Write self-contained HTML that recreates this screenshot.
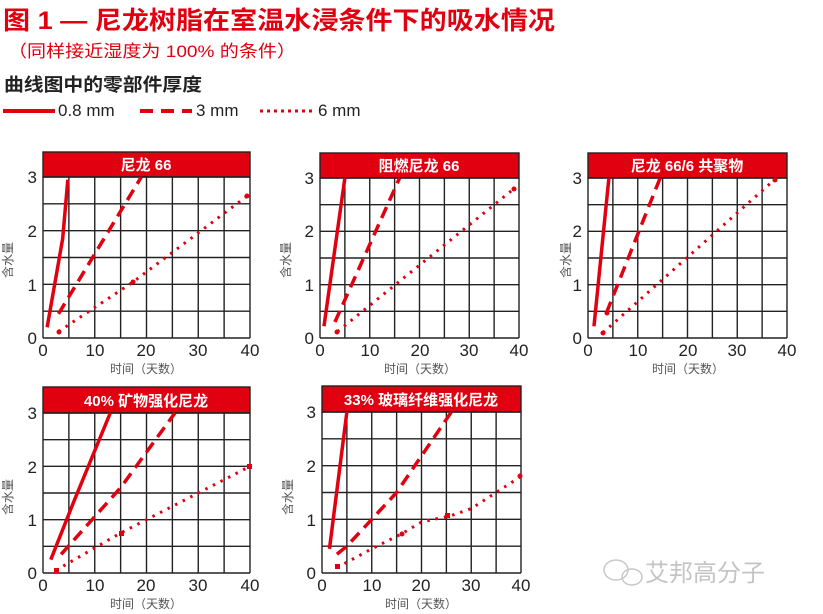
<!DOCTYPE html>
<html><head><meta charset="utf-8"><style>
body{margin:0;background:#fff;width:823px;height:614px;overflow:hidden}
svg{display:block}
text{font-family:"Liberation Sans","Noto Sans CJK SC",sans-serif}
.tk{font-size:17px;fill:#222}
.xl{font-size:12px;fill:#555}
.hd{font-size:15px;fill:#fff;font-weight:bold}
.g line{stroke:#222;stroke-width:1.4;vector-effect:non-scaling-stroke}
.s{fill:none;stroke:#e00010;stroke-width:3.5;vector-effect:non-scaling-stroke}
.d{fill:none;stroke:#e00010;stroke-width:3.5;stroke-dasharray:12 7;vector-effect:non-scaling-stroke}
.o{fill:none;stroke:#e00010;stroke-width:3;stroke-dasharray:2.5 6;vector-effect:non-scaling-stroke}
.m{fill:#e00010}
</style></head><body>
<svg width="823" height="614" viewBox="0 0 823 614">
<defs>
<g id="grid" class="g">
<line x1="0" y1="0" x2="0" y2="3"/><line x1="5" y1="0" x2="5" y2="3"/><line x1="10" y1="0" x2="10" y2="3"/><line x1="15" y1="0" x2="15" y2="3"/><line x1="20" y1="0" x2="20" y2="3"/><line x1="25" y1="0" x2="25" y2="3"/><line x1="30" y1="0" x2="30" y2="3"/><line x1="35" y1="0" x2="35" y2="3"/><line x1="40" y1="0" x2="40" y2="3"/>
<line x1="0" y1="0" x2="40" y2="0"/><line x1="0" y1="0.5" x2="40" y2="0.5"/><line x1="0" y1="1" x2="40" y2="1"/><line x1="0" y1="1.5" x2="40" y2="1.5"/><line x1="0" y1="2" x2="40" y2="2"/><line x1="0" y1="2.5" x2="40" y2="2.5"/><line x1="0" y1="3" x2="40" y2="3"/>
</g>
</defs>
<text x="3" y="29" textLength="552" lengthAdjust="spacingAndGlyphs" style="font-size:25px;font-weight:bold;fill:#e00010">图 1 — 尼龙树脂在室温水浸条件下的吸水情况</text>
<text x="8" y="57" textLength="288" lengthAdjust="spacingAndGlyphs" style="font-size:17px;fill:#e00010">（同样接近湿度为 100% 的条件）</text>
<text x="4" y="91" textLength="198" lengthAdjust="spacingAndGlyphs" style="font-size:18px;font-weight:bold;fill:#222">曲线图中的零部件厚度</text>
<line x1="3" y1="111" x2="55" y2="111" stroke="#e00010" stroke-width="4"/>
<text x="58" y="116" style="font-size:17px;fill:#222">0.8 mm</text>
<line x1="140" y1="111" x2="192" y2="111" stroke="#e00010" stroke-width="4" stroke-dasharray="13 8"/>
<text x="196" y="116" style="font-size:17px;fill:#222">3 mm</text>
<line x1="260" y1="111" x2="316" y2="111" stroke="#e00010" stroke-width="3" stroke-dasharray="3 4"/>
<text x="318" y="116" style="font-size:17px;fill:#222">6 mm</text>

<!-- Chart 1 -->
<g>
<rect x="43" y="152" width="207" height="25" fill="#e00010" stroke="#222" stroke-width="1.4"/>
<text class="hd" x="146" y="170" text-anchor="middle">尼龙 66</text>
<g transform="translate(43,338) scale(5.175,-53.67)">
<use href="#grid"/>
<polyline class="s" points="0.8,0.2 3.8,1.85 4.8,2.95"/>
<polyline class="d" points="3,0.45 19,3"/>
<polyline class="o" points="3,0.12 17.5,1.05 39.5,2.65"/>
</g>
<circle class="m" cx="59" cy="332" r="2.5"/><circle class="m" cx="133" cy="282" r="2.5"/><circle class="m" cx="247" cy="196" r="2.5"/>
<text class="tk" x="37" y="344" text-anchor="end">0</text><text class="tk" x="37" y="291" text-anchor="end">1</text><text class="tk" x="37" y="237" text-anchor="end">2</text><text class="tk" x="37" y="183" text-anchor="end">3</text>
<text class="tk" x="43" y="356" text-anchor="middle">0</text><text class="tk" x="95" y="356" text-anchor="middle">10</text><text class="tk" x="146" y="356" text-anchor="middle">20</text><text class="tk" x="198" y="356" text-anchor="middle">30</text><text class="tk" x="250" y="356" text-anchor="middle">40</text>
<text class="xl" x="146" y="373" text-anchor="middle">时间（天数）</text>
<text class="xl" transform="translate(12,260) rotate(-90)" text-anchor="middle">含水量</text>
</g>

<!-- Chart 2 -->
<g>
<rect x="320" y="153" width="199" height="25" fill="#e00010" stroke="#222" stroke-width="1.4"/>
<text class="hd" x="419" y="171" text-anchor="middle">阻燃尼龙 66</text>
<g transform="translate(320,338) scale(4.975,-53.33)">
<use href="#grid"/>
<polyline class="s" points="0.8,0.22 5,3"/>
<polyline class="d" points="3,0.3 16,3"/>
<polyline class="o" points="3.5,0.12 39,2.8"/>
</g>
<circle class="m" cx="337" cy="332" r="2.5"/><circle class="m" cx="514" cy="189" r="2.5"/>
<text class="tk" x="314" y="344" text-anchor="end">0</text><text class="tk" x="314" y="291" text-anchor="end">1</text><text class="tk" x="314" y="237" text-anchor="end">2</text><text class="tk" x="314" y="184" text-anchor="end">3</text>
<text class="tk" x="320" y="356" text-anchor="middle">0</text><text class="tk" x="370" y="356" text-anchor="middle">10</text><text class="tk" x="420" y="356" text-anchor="middle">20</text><text class="tk" x="469" y="356" text-anchor="middle">30</text><text class="tk" x="519" y="356" text-anchor="middle">40</text>
<text class="xl" x="420" y="373" text-anchor="middle">时间（天数）</text>
<text class="xl" transform="translate(290,260) rotate(-90)" text-anchor="middle">含水量</text>
</g>

<!-- Chart 3 -->
<g>
<rect x="588" y="153" width="199" height="25" fill="#e00010" stroke="#222" stroke-width="1.4"/>
<text class="hd" x="687" y="171" text-anchor="middle">尼龙 66/6 共聚物</text>
<g transform="translate(588,338) scale(4.975,-53.33)">
<use href="#grid"/>
<polyline class="s" points="1.2,0.22 4.2,3"/>
<polyline class="d" points="3.7,0.47 14.5,3"/>
<polyline class="o" points="3,0.1 37.5,2.97"/>
</g>
<circle class="m" cx="603" cy="333" r="2.5"/><circle class="m" cx="607" cy="313" r="2.5"/><circle class="m" cx="775" cy="180" r="2.5"/>
<text class="tk" x="582" y="344" text-anchor="end">0</text><text class="tk" x="582" y="291" text-anchor="end">1</text><text class="tk" x="582" y="237" text-anchor="end">2</text><text class="tk" x="582" y="184" text-anchor="end">3</text>
<text class="tk" x="588" y="356" text-anchor="middle">0</text><text class="tk" x="638" y="356" text-anchor="middle">10</text><text class="tk" x="688" y="356" text-anchor="middle">20</text><text class="tk" x="737" y="356" text-anchor="middle">30</text><text class="tk" x="787" y="356" text-anchor="middle">40</text>
<text class="xl" x="688" y="373" text-anchor="middle">时间（天数）</text>
<text class="xl" transform="translate(570,260) rotate(-90)" text-anchor="middle">含水量</text>
</g>

<!-- Chart 4 -->
<g>
<rect x="43" y="387" width="207" height="26" fill="#e00010" stroke="#222" stroke-width="1.4"/>
<text class="hd" x="146" y="406" text-anchor="middle">40% 矿物强化尼龙</text>
<g transform="translate(43,573) scale(5.175,-53.33)">
<use href="#grid"/>
<polyline class="s" points="1.5,0.25 6,1.35 13,3"/>
<polyline class="d" points="3.5,0.35 15,1.6 25.5,3"/>
<polyline class="o" points="2.5,0.05 15,0.75 40,2"/>
</g>
<rect class="m" x="54" y="568" width="5" height="5"/><rect class="m" x="119" y="531" width="5" height="5"/><rect class="m" x="247" y="464" width="5" height="5"/>
<text class="tk" x="37" y="579" text-anchor="end">0</text><text class="tk" x="37" y="526" text-anchor="end">1</text><text class="tk" x="37" y="473" text-anchor="end">2</text><text class="tk" x="37" y="419" text-anchor="end">3</text>
<text class="tk" x="43" y="591" text-anchor="middle">0</text><text class="tk" x="95" y="591" text-anchor="middle">10</text><text class="tk" x="146" y="591" text-anchor="middle">20</text><text class="tk" x="198" y="591" text-anchor="middle">30</text><text class="tk" x="250" y="591" text-anchor="middle">40</text>
<text class="xl" x="146" y="608" text-anchor="middle">时间（天数）</text>
<text class="xl" transform="translate(12,497) rotate(-90)" text-anchor="middle">含水量</text>
</g>

<!-- Chart 5 -->
<g>
<rect x="322" y="386" width="199" height="26" fill="#e00010" stroke="#222" stroke-width="1.4"/>
<text class="hd" x="421" y="405" text-anchor="middle">33% 玻璃纤维强化尼龙</text>
<g transform="translate(322,573) scale(4.975,-53.67)">
<use href="#grid"/>
<polyline class="s" points="1.5,0.45 5,3"/>
<polyline class="d" points="3,0.35 5,0.5 15,1.5 26,3"/>
<polyline class="o" points="3,0.1 10,0.45 16,0.73 20,0.95 26,1.07 30,1.2 35,1.5 40,1.8"/>
</g>
<rect class="m" x="335" y="564" width="5" height="5"/><circle class="m" cx="402" cy="534" r="2.5"/><rect class="m" x="445" y="513" width="5" height="5"/><circle class="m" cx="520" cy="476" r="2.5"/>
<text class="tk" x="316" y="579" text-anchor="end">0</text><text class="tk" x="316" y="526" text-anchor="end">1</text><text class="tk" x="316" y="472" text-anchor="end">2</text><text class="tk" x="316" y="418" text-anchor="end">3</text>
<text class="tk" x="322" y="591" text-anchor="middle">0</text><text class="tk" x="372" y="591" text-anchor="middle">10</text><text class="tk" x="421" y="591" text-anchor="middle">20</text><text class="tk" x="471" y="591" text-anchor="middle">30</text><text class="tk" x="521" y="591" text-anchor="middle">40</text>
<text class="xl" x="421" y="608" text-anchor="middle">时间（天数）</text>
<text class="xl" transform="translate(292,497) rotate(-90)" text-anchor="middle">含水量</text>
</g>

<!-- watermark -->
<g fill="none" stroke="#c8c8c8" stroke-width="1.5">
<ellipse cx="616" cy="570" rx="12" ry="10"/><ellipse cx="632" cy="577" rx="10" ry="8"/>
</g>
<text x="645" y="581" style="font-size:24px;fill:#c4c4c4">艾邦高分子</text>
</svg>
</body></html>
